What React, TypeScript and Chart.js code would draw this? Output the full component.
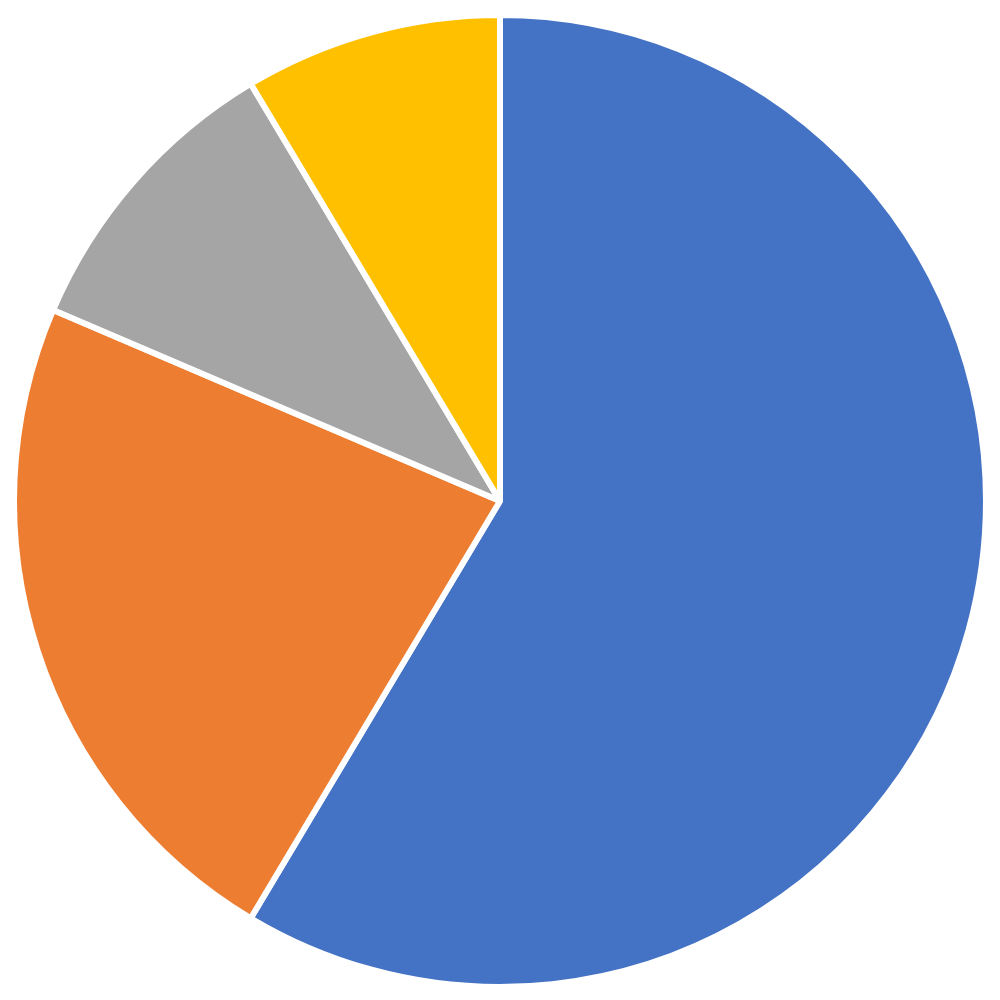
import React, { useRef, useEffect } from 'react';
import { Chart, registerables } from 'chart.js';

Chart.register(...registerables);

const labels = ['1st Qtr', '2nd Qtr', '3rd Qtr', '4th Qtr'];
const sales = [8.2, 3.2, 1.4, 1.2];
const colors = ['#4472C4', '#ED7D31', '#A5A5A5', '#FFC000'];

const App: React.FC = () => {
  const chartRef = useRef<HTMLCanvasElement>(null);

  useEffect(() => {
    if (!chartRef.current) return;
    const chart = new Chart(chartRef.current, {
      type: 'pie',
      data: {
        labels,
        datasets: [{
          label: 'Sales',
          data: sales,
          backgroundColor: colors,
          borderColor: '#ffffff',
          borderWidth: 6,
        }],
      },
      options: {
        responsive: true,
        maintainAspectRatio: false,
        animation: false,
        layout: { padding: { top: 12, bottom: 10, left: 11, right: 11 } },
        plugins: {
          legend: { display: false },
          tooltip: { enabled: false },
        },
      },
    });
    return () => chart.destroy();
  }, []);

  return (
    <div style={{ position: 'absolute', left: 0, top: 0, width: 1000, height: 1000, background: '#fff' }}>
      <canvas ref={chartRef} />
    </div>
  );
};

export default App;
